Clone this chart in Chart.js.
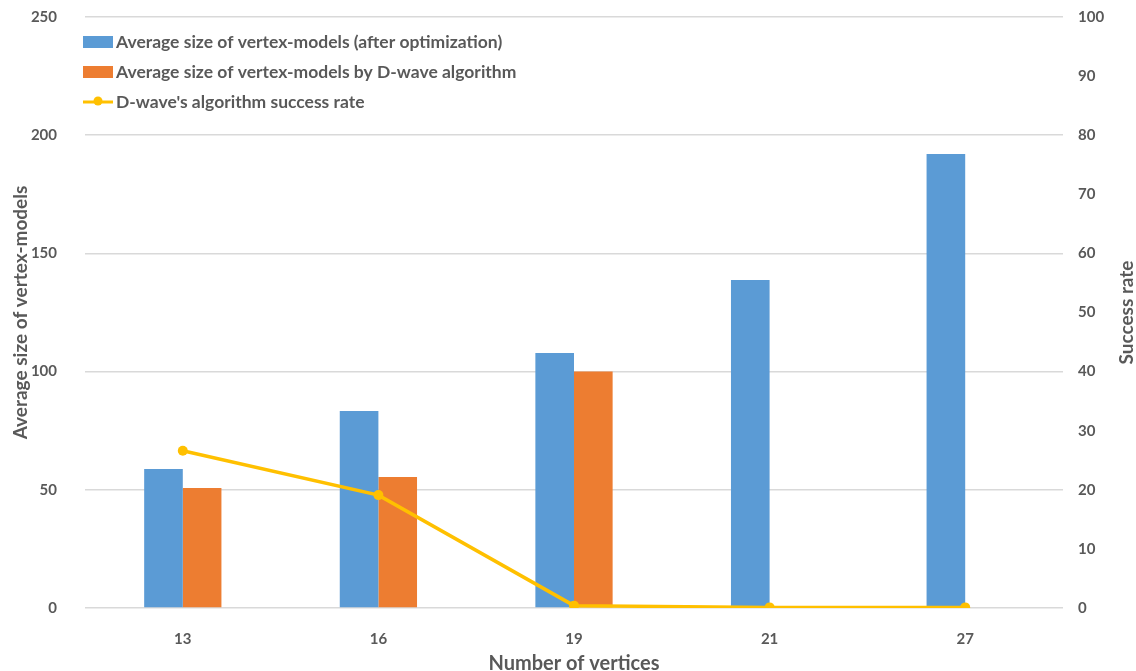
<!DOCTYPE html>
<html>
<head>
<meta charset="utf-8">
<script src="https://cdn.jsdelivr.net/npm/chart.js@4.4.0/dist/chart.umd.min.js"></script>
<style>
  html, body { margin: 0; padding: 0; background: #fff; }
  #wrap { width: 1136px; height: 671px; }
</style>
</head>
<body>
<div id="wrap"><canvas id="chart" width="1136" height="671"></canvas></div>
<script>
const vertices = ['13', '16', '19', '21', '27'];
const sizeOptimized = [58.8, 83.3, 107.9, 138.7, 192.0];
const sizeDwave = [50.8, 55.4, 100.0, null, null];
const successRate = [26.6, 19.1, 0.4, 0.1, 0.1];

const grey = '#595959';
const fontFamily = 'Lato, "Open Sans", sans-serif';

// legend drawn inside the plot area, one entry per line,
// plus the right axis title (rotated the same way as the left one)
const boxLegend = {
    id: 'boxLegend',
    afterDraw(chart) {
        const ctx = chart.ctx;
        const x = 83, y0 = 42, step = 30;
        ctx.save();
        ctx.font = 'bold 17.5px ' + fontFamily;
        ctx.textBaseline = 'middle';
        chart.data.datasets.forEach((ds, i) => {
            const y = y0 + i * step;
            if (ds.type === 'line') {
                ctx.strokeStyle = ds.borderColor;
                ctx.lineWidth = 3;
                ctx.beginPath();
                ctx.moveTo(x, y);
                ctx.lineTo(x + 30, y);
                ctx.stroke();
                ctx.fillStyle = ds.borderColor;
                ctx.beginPath();
                ctx.arc(x + 15, y - 1, 4.5, 0, Math.PI * 2);
                ctx.fill();
            } else {
                ctx.fillStyle = ds.backgroundColor;
                ctx.fillRect(x, y - 6, 30, 12);
            }
            ctx.fillStyle = grey;
            ctx.fillText(ds.label, x + 33, y);
        });

        const area = chart.chartArea;
        ctx.translate(1127, (area.top + area.bottom) / 2);
        ctx.rotate(-Math.PI / 2);
        ctx.textAlign = 'center';
        ctx.font = 'bold 19px ' + fontFamily;
        ctx.fillText('Success rate', 0, 0);
        ctx.restore();
    }
};

new Chart(document.getElementById('chart'), {
    data: {
        labels: vertices,
        datasets: [
            {
                type: 'bar',
                label: 'Average size of vertex-models (after optimization)',
                data: sizeOptimized,
                backgroundColor: '#5B9BD5',
                yAxisID: 'y',
                order: 1,
                barPercentage: 1,
                categoryPercentage: 0.395
            },
            {
                type: 'bar',
                label: 'Average size of vertex-models by D-wave algorithm',
                data: sizeDwave,
                backgroundColor: '#ED7D31',
                yAxisID: 'y',
                order: 1,
                barPercentage: 1,
                categoryPercentage: 0.395
            },
            {
                type: 'line',
                label: "D-wave's algorithm success rate",
                data: successRate,
                borderColor: '#FFC000',
                backgroundColor: '#FFC000',
                borderWidth: 3.5,
                pointRadius: 5,
                pointBackgroundColor: '#FFC000',
                pointBorderWidth: 0,
                yAxisID: 'y2',
                order: 0,
                tension: 0
            }
        ]
    },
    options: {
        responsive: false,
        animation: false,
        layout: { padding: { top: 17, right: 0, left: 0, bottom: 0 } },
        plugins: {
            legend: { display: false },
            tooltip: { enabled: false }
        },
        scales: {
            x: {
                grid: { display: false },
                border: { display: false },
                ticks: {
                    color: grey,
                    font: { family: fontFamily, size: 15, weight: 'bold' },
                    padding: 14
                },
                title: {
                    display: true,
                    text: 'Number of vertices',
                    color: grey,
                    font: { family: fontFamily, size: 20, weight: 'bold' },
                    padding: { top: 9, bottom: -5 }
                },
                afterFit(scale) { scale.height = 63; }
            },
            y: {
                position: 'left',
                min: 0,
                max: 250,
                ticks: {
                    stepSize: 50,
                    color: grey,
                    font: { family: fontFamily, size: 15, weight: 'bold' },
                    padding: 28
                },
                grid: { color: '#d9d9d9', lineWidth: 1.5, drawTicks: false },
                border: { display: false },
                title: {
                    display: true,
                    text: 'Average size of vertex-models',
                    color: grey,
                    font: { family: fontFamily, size: 19, weight: 'bold' },
                    padding: { top: 9, bottom: 0 }
                },
                afterFit(scale) {
                    scale.width = 85;
                    scale.paddingTop = 0;
                    scale.paddingBottom = 0;
                }
            },
            y2: {
                position: 'right',
                min: 0,
                max: 100,
                ticks: {
                    stepSize: 10,
                    color: grey,
                    font: { family: fontFamily, size: 15, weight: 'bold' },
                    padding: 15
                },
                grid: { drawOnChartArea: false, drawTicks: false },
                border: { display: false },
                afterFit(scale) {
                    scale.width = 73;
                    scale.paddingTop = 0;
                    scale.paddingBottom = 0;
                }
            }
        }
    },
    plugins: [boxLegend]
});
</script>
</body>
</html>
